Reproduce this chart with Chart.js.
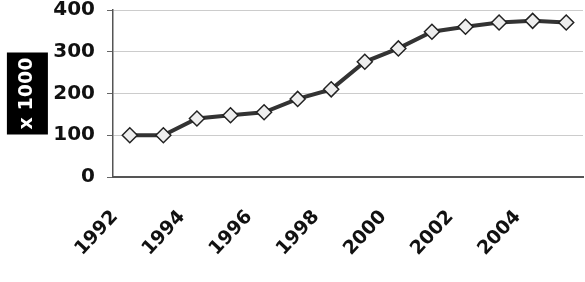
<!DOCTYPE html>
<html>
<head>
<meta charset="utf-8">
<script src="https://cdn.jsdelivr.net/npm/chart.js@4"></script>
<style>
    html, body { margin: 0; padding: 0; background: #fff; }
    #wrap { width: 585px; height: 282px; }
</style>
</head>
<body>
<div id="wrap"><canvas id="Trend"></canvas></div>
<script>
const years = ["1992", "1993", "1994", "1995", "1996", "1997", "1998", "1999", "2000", "2001", "2002", "2003", "2004", "2005"];
const values = [100, 100, 140, 148, 155, 187, 210, 276, 308, 348, 360, 370, 374, 370];
const yTicks = [0, 100, 200, 300, 400];

// black box behind the rotated y axis title
const titleBox = {
    id: "titleBox",
    beforeDraw(chart) {
        const y = chart.scales.y;
        const ctx = chart.ctx;
        const cx = y.left + 11 + 11.4;
        const cy = (y.top + y.bottom) / 2;
        ctx.save();
        ctx.fillStyle = "#000";
        ctx.fillRect(cx - 20.5, cy - 41, 41, 82);
        ctx.restore();
    },
};

function TrendChart() {
    const ctx = document.getElementById("Trend");

    new Chart(ctx, {
        type: "line",
        data: {
            labels: years,
            datasets: [
                {
                    data: values,
                    borderColor: "#333",
                    borderWidth: 4,
                    pointStyle: "rectRot",
                    pointRadius: 7.5,
                    pointBackgroundColor: "#eee",
                    pointBorderColor: "#222",
                    pointBorderWidth: 1.5,
                    tension: 0,
                },
            ],
        },
        options: {
            responsive: true,
            maintainAspectRatio: false,
            animation: false,
            layout: {
                autoPadding: false,
                padding: { left: 5, right: 2, top: 10, bottom: 0 },
            },
            scales: {
                x: {
                    offset: true,
                    afterFit: (axis) => {
                        axis.height = 105;
                        axis.paddingLeft = 0;
                        axis.paddingRight = 0;
                    },
                    grid: {
                        display: false,
                        drawTicks: false,
                    },
                    border: { color: "#555", width: 2 },
                    ticks: {
                        autoSkip: false,
                        minRotation: 47,
                        maxRotation: 47,
                        labelOffset: -15,
                        padding: 29,
                        color: "#111",
                        font: { family: "DejaVu Sans", size: 19, weight: "bold" },
                        callback: function (val, i) {
                            return i % 2 === 0 ? years[i] : "";
                        },
                    },
                },
                y: {
                    min: 0,
                    max: 400,
                    afterBuildTicks: (axis) => {
                        axis.ticks = yTicks.map((v) => ({ value: v }));
                    },
                    afterFit: (axis) => {
                        axis.width = 108;
                        axis.paddingTop = 0;
                        axis.paddingBottom = 0;
                    },
                    grid: {
                        color: "#ccc",
                        tickColor: "#666",
                        tickLength: 6,
                    },
                    border: { color: "#555", width: 1.5 },
                    ticks: {
                        padding: 12,
                        color: "#111",
                        font: { family: "DejaVu Sans", size: 20, weight: "bold" },
                    },
                    title: {
                        display: true,
                        text: "x 1000",
                        color: "#fff",
                        padding: { top: 11, bottom: 6 },
                        font: { family: "DejaVu Sans", size: 19, weight: "bold" },
                    },
                },
            },
            plugins: {
                legend: { display: false },
                tooltip: { enabled: false },
            },
        },
        plugins: [titleBox],
    });
}

TrendChart()
</script>
</body>
</html>
